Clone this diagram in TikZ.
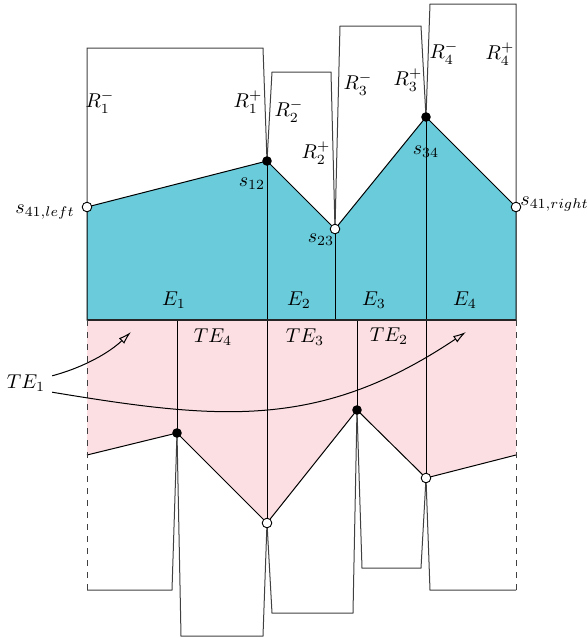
\documentclass[tikz,border=0pt]{standalone}
\usepackage{amsmath,amssymb}
\usepackage{tikz}
\usetikzlibrary{arrows.meta}

\definecolor{topcyan}{RGB}{106,203,219}
\definecolor{botpink}{RGB}{252,223,226}

\tikzset{
  wedge/.style={draw=black!75, line width=0.5pt},
  dot/.style={circle, fill=black, inner sep=0pt, minimum size=4.8pt},
  odot/.style={circle, draw=black, fill=white, line width=0.45pt, inner sep=0pt, minimum size=4.8pt},
  tearrow/.style={-{Latex[open,length=6.5pt,width=3.8pt]}, line width=0.5pt}
}

\begin{document}
\begin{tikzpicture}[x=0.5pt, y=-0.5pt, every node/.style={font=\normalsize}]

\useasboundingbox (0,0) rectangle (586,639);

% --- vertices ---
\coordinate (sL)  at (87,207);
\coordinate (s12) at (267,161);
\coordinate (s23) at (335,229);
\coordinate (s34) at (426,117);
\coordinate (sR)  at (516,207);
\coordinate (eL)  at (87,320);
\coordinate (eR)  at (516,320);

\coordinate (tL) at (87,455);
\coordinate (t1) at (177,433);
\coordinate (t2) at (267,523);
\coordinate (t3) at (357,410);
\coordinate (t4) at (426,478);
\coordinate (tR) at (516,455);

% --- filled regions ---
\fill[botpink] (eL) -- (eR) -- (tR) -- (t4) -- (t3) -- (t2) -- (t1) -- (tL) -- cycle;
\filldraw[fill=topcyan, draw=black, line width=0.5pt]
    (eL) -- (sL) -- (s12) -- (s23) -- (s34) -- (sR) -- (eR) -- cycle;
\draw[line width=0.5pt] (tL) -- (t1) -- (t2) -- (t3) -- (t4) -- (tR);

% vertical lines
\draw[line width=0.45pt] (s12) -- (s12 |- eL);
\draw[line width=0.45pt] (s23) -- (s23 |- eL);
\draw[line width=0.45pt] (s34) -- (s34 |- eL);
\draw[line width=0.45pt] (t1) -- (t1 |- eL);
\draw[line width=0.45pt] (t2) -- (t2 |- eL);
\draw[line width=0.45pt] (t3) -- (t3 |- eL);
\draw[line width=0.45pt] (t4) -- (t4 |- eL);

\draw[line width=1.1pt, black!85] (eL) -- (eR);   % edge line

% --- upper wedges ---
\draw[wedge] (sL) -- (87,48) -- (263,48) -- (s12);
\draw[wedge] (s12) -- (272,72) -- (331,72) -- (s23);
\draw[wedge] (s23) -- (340,26) -- (421,26) -- (s34);
\draw[wedge] (s34) -- (430,4) -- (516,4) -- (sR);

% --- lower wedges ---
\draw[wedge, dashed] (eL) -- (87,590);
\draw[wedge] (87,590) -- (172,590) -- (t1);
\draw[wedge] (t1) -- (181,636) -- (263,636) -- (t2);
\draw[wedge] (t2) -- (272,613) -- (353,613) -- (t3);
\draw[wedge] (t3) -- (362,568) -- (421,568) -- (t4);
\draw[wedge] (t4) -- (430,590) -- (516,590);
\draw[wedge, dashed] (516,590) -- (eR);

% --- vertex marks ---
\node[odot] (vL)  at (sL)  {};
\node[dot]  (v12) at (s12) {};
\node[odot] (v23) at (s23) {};
\node[dot]  (v34) at (s34) {};
\node[odot] (vR)  at (sR)  {};
\node[dot]  (w1)  at (t1)  {};
\node[odot] (w2)  at (t2)  {};
\node[dot]  (w3)  at (t3)  {};
\node[odot] (w4)  at (t4)  {};

% --- labels ---
\node (R1m) at (100,102) {$R_1^-$};
\node (R1p) at (248,102) {$R_1^+$};
\node (R2m) at (289,111) {$R_2^-$};
\node (R2p) at (316,153) {$R_2^+$};
\node (R3m) at (358,84)  {$R_3^-$};
\node (R3p) at (408,80)  {$R_3^+$};
\node (R4m) at (444,53)  {$R_4^-$};
\node (R4p) at (500,54)  {$R_4^+$};

\node (lsL)  at (45,212)  {$s_{41,left}$};
\node (ls12) at (252,184) {$s_{12}$};
\node (ls23) at (321,240) {$s_{23}$};
\node (ls34) at (426,152) {$s_{34}$};
\node[anchor=west, inner sep=0.5pt] (lsR) at (519,204) {$s_{41,right}$};

\node (E1) at (174,300) {$E_1$};
\node (E2) at (299,300) {$E_2$};
\node (E3) at (374,300) {$E_3$};
\node (E4) at (465,300) {$E_4$};

\node (TE4) at (213,337) {$TE_4$};
\node (TE3) at (305,337) {$TE_3$};
\node (TE2) at (389,336) {$TE_2$};
\node (TE1) at (26,383)  {$TE_1$};

% arrows from TE1
\coordinate (tip1) at (131,332);
\coordinate (tip4) at (466,332);
\draw[tearrow] ([yshift=3.6pt]TE1.east) .. controls (85,367) and (110,352) .. (tip1);
\draw[tearrow] ([yshift=-4.6pt]TE1.east) .. controls (220,420) and (320,430) .. (tip4);

\end{tikzpicture}
\end{document}
